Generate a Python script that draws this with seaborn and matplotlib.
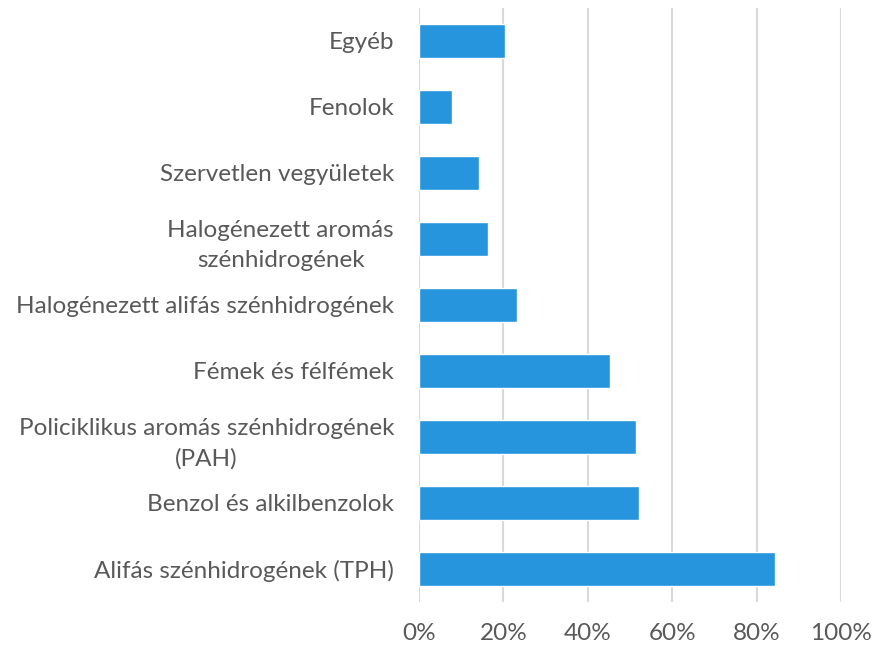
import matplotlib
matplotlib.use('Agg')
import matplotlib.pyplot as plt
import pandas as pd
import seaborn as sns
from matplotlib.ticker import PercentFormatter

# categories top to bottom, values as share (0-1)
categories = [
    'Egyéb',
    'Fenolok',
    'Szervetlen vegyületek',
    'Halogénezett aromás\nszénhidrogének',
    'Halogénezett alifás szénhidrogének',
    'Fémek és félfémek',
    'Policiklikus aromás szénhidrogének\n(PAH)',
    'Benzol és alkilbenzolok',
    'Alifás szénhidrogének (TPH)',
]
shares = [0.203, 0.077, 0.141, 0.163, 0.233, 0.453, 0.515, 0.522, 0.843]
x_ticks = [0, 0.2, 0.4, 0.6, 0.8, 1.0]

text_grey = '#595959'
bar_blue = '#2695DE'


def main():
    sns.set_theme(style='white')
    plt.rcParams['font.family'] = ['Lato', 'DejaVu Sans']

    df = pd.DataFrame({'category': categories, 'share': shares})

    fig = plt.figure(figsize=(8.73, 6.45), dpi=100)
    ax = fig.add_axes([0.48, 0.0667, 0.9633 - 0.48, 0.9876 - 0.0667])

    sns.barplot(data=df, x='share', y='category', order=categories,
                color=bar_blue, saturation=1, width=0.52, ax=ax)

    ax.set_xlim(0, 1.0)
    ax.set_ylim(len(categories) - 0.5, -0.5)
    ax.set_xticks(x_ticks)
    ax.xaxis.set_major_formatter(PercentFormatter(1.0, decimals=0))
    ax.set_axisbelow(True)
    ax.grid(axis='x', color='#D9D9D9', linewidth=1.5)
    ax.grid(axis='y', visible=False)
    for s in ax.spines.values():
        s.set_visible(False)

    ax.set_xlabel('')
    ax.set_ylabel('')
    ax.tick_params(axis='x', length=0, pad=15, labelsize=17.5, labelcolor=text_grey)
    ax.tick_params(axis='y', length=0, pad=18, labelsize=17.5, labelcolor=text_grey)
    for lbl in ax.get_yticklabels():
        lbl.set_multialignment('center')
        lbl.set_linespacing(1.55)

    fig.savefig('out.png', dpi=100)


if __name__ == '__main__':
    main()
